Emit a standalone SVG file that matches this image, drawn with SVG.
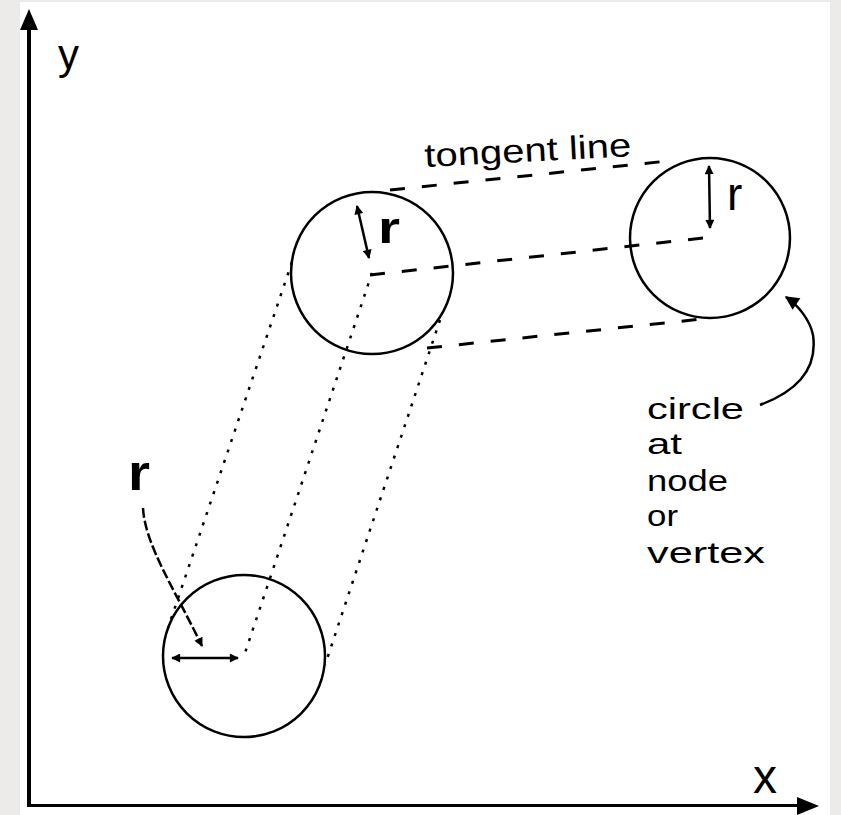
<svg xmlns="http://www.w3.org/2000/svg" width="841" height="815" viewBox="0 0 841 815">
<style>
.circ{fill:none;stroke:#000;stroke-width:2.5}
.dash{fill:none;stroke:#000;stroke-width:3;stroke-dasharray:15 17}
.dot{fill:none;stroke:#000;stroke-width:2.5;stroke-dasharray:3 8}
.rad{fill:none;stroke:#000;stroke-width:2.5}
.lbl{font-family:"Liberation Sans",Arial,sans-serif;fill:#000}
</style>
<defs>
<marker id="ah" viewBox="0 0 10 10" refX="9" refY="5" markerUnits="userSpaceOnUse" markerWidth="10" markerHeight="9" orient="auto-start-reverse">
<path d="M0,0 L10,5 L0,10 z" fill="#000"/>
</marker>
<marker id="ahBig" viewBox="0 0 10 10" refX="9" refY="5" markerUnits="userSpaceOnUse" markerWidth="17" markerHeight="14" orient="auto">
<path d="M0,0 L10,5 L0,10 z" fill="#000"/>
</marker>
</defs>
<rect x="0" y="0" width="841" height="815" fill="#edebe9"/>
<rect x="20" y="2" width="810" height="813" fill="#fff"/>

<g id="axes">
<line x1="29" y1="26" x2="29" y2="807" stroke="#000" stroke-width="4"/>
<polygon points="29,9 20,30 38,30" fill="#000"/>
<line x1="27" y1="805.5" x2="800" y2="805.5" stroke="#000" stroke-width="3"/>
<polygon points="819,806 797,797 797,815" fill="#000"/>
<text class="lbl" x="58" y="69" font-size="42">y</text>
<text class="lbl" x="753" y="793" font-size="48">x</text>
</g>

<g id="connectors">
<line class="dash" x1="390" y1="190" x2="668" y2="161"/>
<line class="dash" x1="370" y1="275" x2="712" y2="237"/>
<line class="dash" x1="427" y1="348" x2="702" y2="319"/>
<line class="dot" x1="292" y1="262" x2="168" y2="628"/>
<line class="dot" x1="372" y1="273" x2="244" y2="656"/>
<line class="dot" x1="440" y1="320" x2="325" y2="665"/>
<path class="rad" d="M143,508 C145,545 175,590 202,646" stroke-dasharray="10 3" marker-end="url(#ah)"/>
<path class="rad" d="M760,405 C795,392 818,370 813,335 C810,320 798,305 786,297" marker-end="url(#ahBig)"/>
</g>

<g id="node-bottom">
<circle class="circ" cx="244" cy="656" r="81"/>
<line class="rad" x1="172" y1="658" x2="238" y2="658" marker-start="url(#ah)" marker-end="url(#ah)"/>
<text class="lbl" x="128" y="490" font-size="50" font-weight="bold" textLength="22" lengthAdjust="spacingAndGlyphs">r</text>
</g>

<g id="node-middle">
<circle class="circ" cx="372" cy="273" r="81"/>
<line class="rad" x1="357" y1="206" x2="369" y2="258" marker-start="url(#ah)" marker-end="url(#ah)"/>
<text class="lbl" x="378" y="243" font-size="44" font-weight="bold" textLength="22" lengthAdjust="spacingAndGlyphs">r</text>
</g>

<g id="node-right">
<circle class="circ" cx="710" cy="238" r="80"/>
<line class="rad" x1="709" y1="166" x2="710" y2="228" marker-start="url(#ah)" marker-end="url(#ah)"/>
<text class="lbl" x="727" y="210" font-size="46">r</text>
</g>

<g id="label-tangent">
<text class="lbl" x="425" y="167" font-size="33" textLength="207" lengthAdjust="spacingAndGlyphs" transform="rotate(-3 425 167)">tongent line</text>
</g>

<g id="label-circle">
<text class="lbl" x="647" y="419" font-size="30" textLength="97" lengthAdjust="spacingAndGlyphs">circle</text>
<text class="lbl" x="647" y="454" font-size="30" textLength="35" lengthAdjust="spacingAndGlyphs">at</text>
<text class="lbl" x="647" y="491" font-size="30" textLength="81" lengthAdjust="spacingAndGlyphs">node</text>
<text class="lbl" x="647" y="526" font-size="30" textLength="31" lengthAdjust="spacingAndGlyphs">or</text>
<text class="lbl" x="647" y="563" font-size="30" textLength="118" lengthAdjust="spacingAndGlyphs">vertex</text>
</g>
</svg>
